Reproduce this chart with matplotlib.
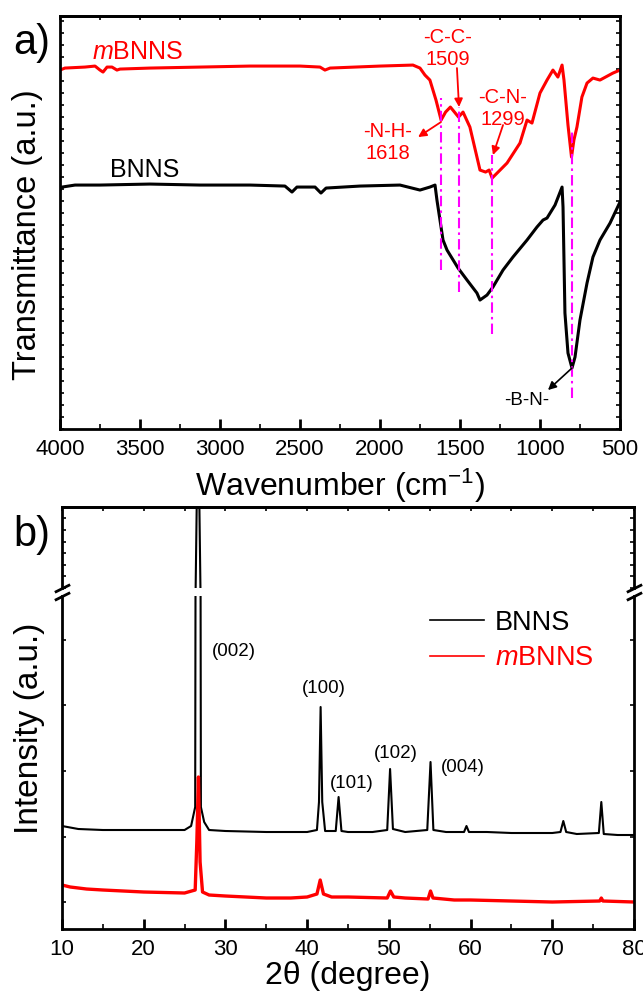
import matplotlib
matplotlib.use("Agg")
import matplotlib.pyplot as plt
from matplotlib.ticker import MultipleLocator, NullFormatter

plt.rcParams['font.family'] = ['Liberation Sans', 'DejaVu Sans']
plt.rcParams['mathtext.fontset'] = 'custom'
plt.rcParams['mathtext.rm'] = 'Liberation Sans'
plt.rcParams['mathtext.it'] = 'Liberation Sans:italic'
plt.rcParams['axes.linewidth'] = 2.0

# FTIR, BNNS (wavenumber cm-1, transmittance a.u.)
wn_bnns = [4000, 3987, 3906, 3750, 3438, 3125, 2812, 2594, 2550, 2519, 2406, 2369,
           2337, 2125, 1875, 1750, 1688, 1656, 1644, 1625, 1606, 1581, 1512, 1456,
           1394, 1375, 1331, 1294, 1231, 1169, 1081, 1019, 981, 956, 906, 862, 856,
           844, 825, 800, 781, 750, 706, 669, 625, 562, 500]
t_bnns = [239, 242, 244, 244, 245, 244, 244, 243, 237, 242, 242, 236,
          241, 243, 244, 239, 242, 244, 229, 209, 189, 179, 161, 149,
          136, 129, 134, 142, 159, 172, 189, 202, 209, 211, 224, 242, 222,
          116, 76, 61, 72, 109, 146, 172, 189, 206, 227]

# FTIR, mBNNS
wn_mbnns = [4000, 3969, 3844, 3781, 3750, 3731, 3706, 3675, 3644, 3625, 3438, 3125,
            2812, 2500, 2375, 2344, 2312, 2000, 1794, 1750, 1719, 1688, 1650, 1618,
            1590, 1560, 1509, 1481, 1438, 1394, 1375, 1340, 1318, 1299, 1206, 1125,
            1081, 1050, 1000, 956, 919, 888, 862, 850, 825, 803, 788, 769, 738, 706,
            669, 625, 544, 500]
t_mbnns = [359, 361, 362, 363, 359, 357, 362, 362, 359, 360, 361, 362,
           363, 363, 362, 359, 361, 363, 364, 361, 354, 349, 329, 309,
           317, 322, 312, 317, 302, 272, 259, 257, 259, 251, 266, 286,
           309, 306, 336, 349, 359, 352, 364, 349, 304, 272, 289, 302, 332, 346,
           351, 349, 356, 359]

# assigned bands: label, wavenumber, line bottom, line top
band_labels = ['-N-H-\n1618', '-C-C-\n1509', '-C-N-\n1299']
band_wn = [1618, 1509, 1299, 800]
band_lo = [159, 137, 95, 31]
band_hi = [331, 322, 274, 299]

# XRD, BNNS (2theta, intensity a.u.)
tt_bnns = [10, 12, 15, 20, 25, 25.8, 26.3, 26.65, 27.0, 27.4, 28, 30, 35, 40, 41.2,
           41.45, 41.65, 41.85, 42.2, 43.5, 43.85, 44.2, 45, 48, 49.8, 50.15, 50.5,
           52, 54.7, 55.1, 55.45, 57, 59.2, 59.5, 59.8, 62, 65, 70, 71.0, 71.35, 71.7,
           73, 75.7, 76.0, 76.3, 78, 80]
i_bnns = [76, 73, 72, 72, 72, 76, 95, 2000, 95, 80, 72, 71, 70, 70, 72,
          100, 195, 100, 71, 71, 105, 71, 70, 70, 72, 133, 73,
          70, 72, 140, 72, 70, 70, 76, 70, 70, 69, 69, 70, 81, 70,
          68, 69, 100, 68, 67, 67]

# XRD, mBNNS
tt_mbnns = [10, 11, 13, 15, 20, 25, 26.3, 26.5, 26.7, 26.9, 27.2, 28, 30, 35, 38, 40,
            41.2, 41.6, 42.0, 43, 45, 49.8, 50.2, 50.6, 52, 54.8, 55.1, 55.4, 58, 60,
            65, 70, 75.8, 76.0, 76.2, 80]
i_mbnns = [17, 15, 13, 12, 10, 9, 12, 60, 125, 40, 10, 7, 6, 4, 4, 5,
           8, 22, 8, 5, 5, 4, 11, 5, 4, 3, 11, 4, 2, 2,
           1, 0, 1, 4, 1, 0]

hkl_labels = ['(002)', '(100)', '(101)', '(102)', '(004)']
hkl_x = [31.05, 42.0, 45.5, 50.9, 59.1]
hkl_y = [250, 213, 119, 149, 135]

fig = plt.figure(figsize=(6.43, 9.92), dpi=100)

# ---------- a) FTIR ----------
ax = fig.add_axes([0.0933, 0.5675, 0.8709, 0.4163])
ax.plot(wn_mbnns, t_mbnns, color='red', lw=2.2)
ax.plot(wn_bnns, t_bnns, color='black', lw=2.2)
ax.set_xlim(4000, 500)
ax.set_ylim(0, 413)
ax.xaxis.set_major_locator(MultipleLocator(500))
ax.xaxis.set_minor_locator(MultipleLocator(250))
ax.yaxis.set_major_locator(MultipleLocator(12))
ax.tick_params(axis='x', which='major', direction='in', length=7, width=2, labelsize=16, pad=7)
ax.tick_params(axis='x', which='minor', direction='in', length=3.5, width=1.2)
ax.tick_params(axis='y', which='both', direction='in', length=3, width=1.2,
               left=True, right=True, labelleft=False)
sec = ax.secondary_xaxis('top')
sec.xaxis.set_major_locator(MultipleLocator(250))
sec.xaxis.set_major_formatter(NullFormatter())
sec.tick_params(direction='in', length=3, width=1.2)

for x, lo, hi in zip(band_wn, band_lo, band_hi):
    ax.plot([x, x], [lo, hi], color='magenta', lw=1.5, linestyle=(0, (5, 2, 1.2, 2)))

ax.text(3800, 377, '$\\mathit{m}$BNNS', color='red', fontsize=18, va='center', ha='left')
ax.text(3688, 259, 'BNNS', color='black', fontsize=18, va='center', ha='left')

ax.text(1950, 287, band_labels[0], color='red', fontsize=14.5, ha='center', va='center')
ax.text(1575, 381, band_labels[1], color='red', fontsize=14.5, ha='center', va='center')
ax.text(1231, 321, band_labels[2], color='red', fontsize=14.5, ha='center', va='center')
ax.text(1081, 29, '-B-N-', color='black', fontsize=13.5, ha='center', va='center')

red_arrow = dict(arrowstyle='-|>', color='red', lw=1.3, mutation_scale=12, shrinkA=0, shrinkB=0)
ax.annotate('', xy=(1762, 292), xytext=(1619, 307), arrowprops=red_arrow)
ax.annotate('', xy=(1506, 322), xytext=(1519, 361), arrowprops=red_arrow)
ax.annotate('', xy=(1294, 274), xytext=(1231, 304), arrowprops=red_arrow)
ax.annotate('', xy=(950, 39), xytext=(800, 61),
            arrowprops=dict(arrowstyle='-|>', color='black', lw=1.2, mutation_scale=12,
                            shrinkA=0, shrinkB=0))

ax.set_xlabel('Wavenumber (cm$^{-1}$)', fontsize=23, labelpad=5)
fig.text(28 / 643, 1 - 235 / 992, 'Transmittance (a.u.)', fontsize=23.5, rotation=90,
         ha='center', va='center')
fig.text(32 / 643, 1 - 43 / 992, 'a)', fontsize=30, ha='center', va='center')

# ---------- b) XRD, broken y axis ----------
lo_ax = fig.add_axes([0.0964, 0.0635, 0.8896, 0.3357])
hi_ax = fig.add_axes([0.0964, 0.4073, 0.8896, 0.0817], sharex=lo_ax)

for a in (lo_ax, hi_ax):
    a.plot(tt_bnns, i_bnns, color='black', lw=1.5, label='BNNS')
    a.plot(tt_mbnns, i_mbnns, color='red', lw=2.4, label='$\\mathit{m}$BNNS')
    a.tick_params(axis='y', which='both', direction='in', length=3, width=1.2,
                  left=True, right=True, labelleft=False)

lo_ax.set_xlim(10, 80)
lo_ax.set_ylim(-27, 306)
hi_ax.set_ylim(400, 1100)
lo_ax.yaxis.set_major_locator(MultipleLocator(65.5))
hi_ax.yaxis.set_major_locator(MultipleLocator(100))
lo_ax.xaxis.set_major_locator(MultipleLocator(10))
lo_ax.xaxis.set_minor_locator(MultipleLocator(5))
lo_ax.tick_params(axis='x', which='major', direction='in', length=7, width=2, labelsize=16, pad=7)
lo_ax.tick_params(axis='x', which='minor', direction='in', length=3.5, width=1.2)
hi_ax.tick_params(axis='x', which='both', bottom=False, labelbottom=False)
sec2 = hi_ax.secondary_xaxis('top')
sec2.xaxis.set_major_locator(MultipleLocator(5))
sec2.xaxis.set_major_formatter(NullFormatter())
sec2.tick_params(direction='in', length=3, width=1.2)

lo_ax.spines['top'].set_visible(False)
hi_ax.spines['bottom'].set_visible(False)

brk = dict(marker=[(-1, -0.5), (1, 0.5)], markersize=11, linestyle='none',
           color='k', mec='k', mew=2, clip_on=False)
hi_ax.plot([0, 1], [0, 0], transform=hi_ax.transAxes, **brk)
lo_ax.plot([0, 1], [1, 1], transform=lo_ax.transAxes, **brk)

for lab, x, y in zip(hkl_labels, hkl_x, hkl_y):
    lo_ax.text(x, y, lab, fontsize=13.5, ha='center', va='center')

leg = lo_ax.legend(loc='center left', bbox_to_anchor=(0.643, 0.866), frameon=False,
                   fontsize=19.5, handlelength=2.0, handletextpad=0.4, borderpad=0,
                   borderaxespad=0, labelspacing=0.35)
for line in leg.get_lines():
    line.set_linewidth(1.2)
for txt, c in zip(leg.get_texts(), ['black', 'red']):
    txt.set_color(c)

lo_ax.set_xlabel('2θ (degree)', fontsize=23, labelpad=1)
fig.text(30 / 643, 1 - 728 / 992, 'Intensity (a.u.)', fontsize=24, rotation=90,
         ha='center', va='center')
fig.text(32 / 643, 1 - 535 / 992, 'b)', fontsize=30, ha='center', va='center')

fig.savefig('out.png', dpi=100)
